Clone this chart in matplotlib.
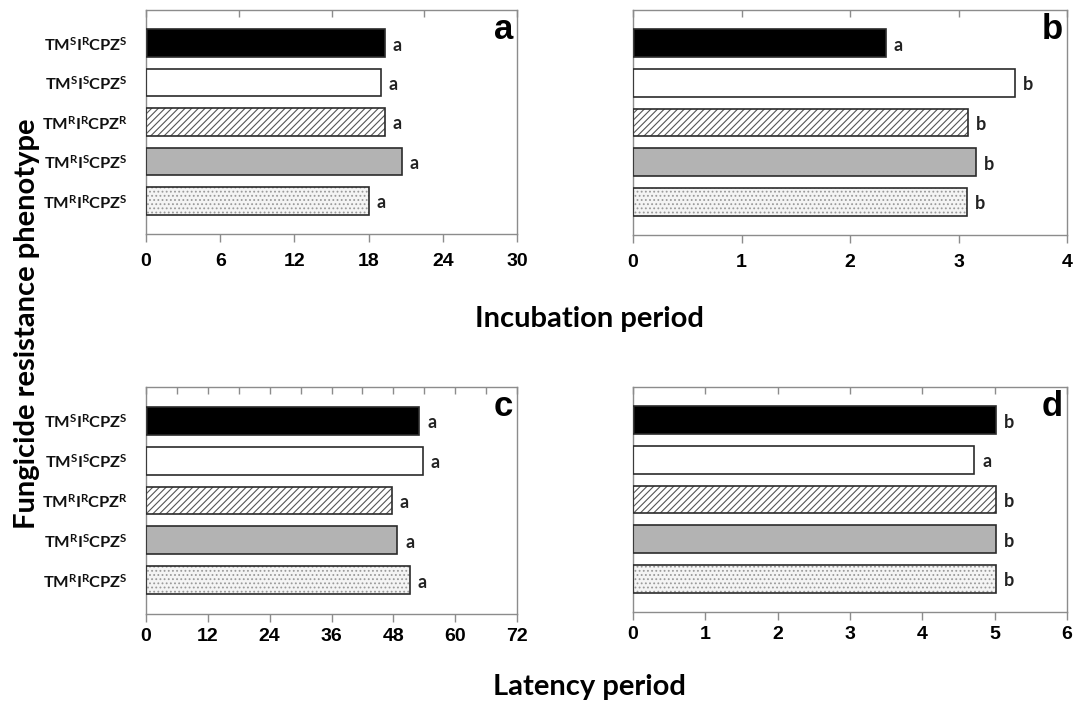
import matplotlib
matplotlib.use('Agg')
import matplotlib.pyplot as plt
from matplotlib.ticker import MultipleLocator

plt.rcParams['mathtext.fontset'] = 'custom'
plt.rcParams['mathtext.rm'] = 'Lato'
plt.rcParams['mathtext.it'] = 'Lato'
plt.rcParams['mathtext.bf'] = 'Lato:bold'
plt.rcParams['hatch.linewidth'] = 0.8

# phenotypes, top to bottom
phenotypes = [
    r'TM$^{\mathbf{S}}$I$^{\mathbf{R}}$CPZ$^{\mathbf{S}}$',
    r'TM$^{\mathbf{S}}$I$^{\mathbf{S}}$CPZ$^{\mathbf{S}}$',
    r'TM$^{\mathbf{R}}$I$^{\mathbf{R}}$CPZ$^{\mathbf{R}}$',
    r'TM$^{\mathbf{R}}$I$^{\mathbf{S}}$CPZ$^{\mathbf{S}}$',
    r'TM$^{\mathbf{R}}$I$^{\mathbf{R}}$CPZ$^{\mathbf{S}}$',
]

# values
incub_a = [19.3, 19.0, 19.3, 20.7, 18.0]
incub_b = [2.33, 3.52, 3.09, 3.16, 3.08]
latency_c = [53.0, 53.7, 47.7, 48.8, 51.2]
latency_d = [5.02, 4.72, 5.02, 5.02, 5.02]

letters_a = ['a', 'a', 'a', 'a', 'a']
letters_b = ['a', 'b', 'b', 'b', 'b']
letters_c = ['a', 'a', 'a', 'a', 'a']
letters_d = ['b', 'a', 'b', 'b', 'b']

# bar styles: fill, hatch, hatch colour
fills = ['black', 'white', 'white', '#b3b3b3', '#f4f4f4']
hatches = [None, None, '/////', None, '....']
hatch_cols = ['black', 'white', '#555555', '#b3b3b3', '#9a9a9a']

spine_col = '#8c8c8c'

fig = plt.figure(figsize=(10.76, 7.03), dpi=100)
W, H = 1076, 703


def panel(rect, vals, letters, xmax, major, minor, tag, show_labels, pad):
    l, t, r, b = rect
    ax = fig.add_axes([l / W, 1 - b / H, (r - l) / W, (b - t) / H])
    y = list(range(len(vals)))
    for i in y:
        # fill + hatch first, then a clean dark outline on top
        ax.barh(i, vals[i], height=0.7, color=fills[i], hatch=hatches[i],
                edgecolor=hatch_cols[i], linewidth=0, zorder=2)
        ax.barh(i, vals[i], height=0.7, fill=False, edgecolor='#2b2b2b',
                linewidth=1.2, zorder=3)
        ax.annotate(letters[i], (vals[i], i), xytext=(8, -2),
                    textcoords='offset pixels', ha='left', va='center',
                    fontsize=13, family='Lato', fontweight='bold',
                    color='#222222')
    ax.set_ylim(4.84, -0.84)
    ax.set_xlim(0, xmax)
    ax.xaxis.remove_overlapping_locs = False
    ax.xaxis.set_major_locator(MultipleLocator(major))
    ax.xaxis.set_minor_locator(MultipleLocator(minor))
    ax.tick_params(axis='x', which='major', bottom=True, top=False,
                   direction='out', length=6, width=1, color=spine_col, pad=pad)
    ax.tick_params(axis='x', which='minor', bottom=False, top=True,
                   direction='in', length=5, width=1, color=spine_col)
    for lab in ax.get_xticklabels():
        lab.set_family('Liberation Sans')
        lab.set_fontweight('bold')
        lab.set_fontsize(14)
    ax.set_yticks(y)
    if show_labels:
        ax.set_yticklabels(phenotypes, family='Lato', fontsize=11.8,
                           fontweight='bold', color='#111111')
    else:
        ax.set_yticklabels([])
    ax.tick_params(axis='y', length=0, pad=13)
    for s in ax.spines.values():
        s.set_color(spine_col)
        s.set_linewidth(1)
    ax.annotate(tag, (1, 1), xycoords='axes fraction', xytext=(-4, -29),
                textcoords='offset pixels', ha='right', va='baseline',
                family='Liberation Sans', fontweight='bold', fontsize=25)
    return ax


panel((146, 10, 517, 234), incub_a, letters_a, 30, 6, 7.5, 'a', True, 8)
panel((633, 10, 1067, 235), incub_b, letters_b, 4, 1, 1, 'b', False, 8)
panel((146, 387, 517, 614), latency_c, letters_c, 72, 12, 6, 'c', True, 4)
panel((633, 387, 1067, 612), latency_d, letters_d, 6, 1, 1, 'd', False, 4)

fig.text(589 / W, 1 - 319 / H, 'Incubation period', ha='center', va='center',
         family='Lato', fontweight='bold', fontsize=21)
fig.text(589 / W, 1 - 687 / H, 'Latency period', ha='center', va='center',
         family='Lato', fontweight='bold', fontsize=21)
fig.text(27 / W, 1 - 324 / H, 'Fungicide resistance phenotype', ha='center',
         va='center', rotation=90, family='Lato', fontweight='bold', fontsize=21)

fig.savefig('out.png', dpi=100)
